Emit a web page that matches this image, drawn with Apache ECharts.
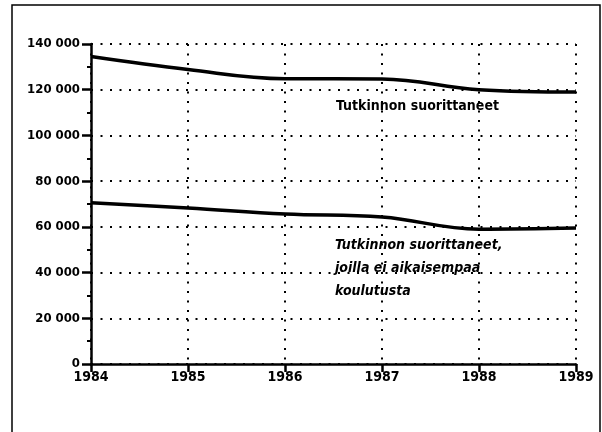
<!DOCTYPE html>
<html>
<head>
<meta charset="utf-8">
<script src="https://cdn.jsdelivr.net/npm/echarts@6/dist/echarts.min.js"></script>
<style>
  html, body { margin: 0; padding: 0; background: #fff; }
  #chart { width: 602px; height: 432px; }
</style>
</head>
<body>
<div id="chart"></div>
<script>
const years = [1984, 1985, 1986, 1987, 1988, 1989];
const graduates = [134500, 128800, 124800, 124700, 120000, 119000];
const graduatesNoPrior = [70500, 68300, 65600, 64300, 59000, 59500];
const yTicks = [0, 20000, 40000, 60000, 80000, 100000, 120000, 140000];

const font = '"Liberation Sans Narrow", "DejaVu Sans Condensed", sans-serif';

function fmt(v) {
  return v === 0 ? '0' : String(v).replace(/(\d)(?=(\d{3})+$)/g, '$1 ');
}

const dotted = { color: '#000', width: 2, type: [2, 7.5] };

const option = {
  animation: false,
  grid: { left: 91, right: 26, top: 44, bottom: 68 },
  xAxis: {
    type: 'value',
    min: 1984, max: 1989, interval: 1,
    axisLine: { show: true, onZero: false, lineStyle: { color: '#000', width: 2.5 } },
    axisTick: { show: true, length: 8, lineStyle: { color: '#000', width: 2.5 } },
    axisLabel: {
      color: '#000', fontFamily: font, fontWeight: 'bold', fontSize: 14, margin: 6,
      formatter: v => String(v)
    },
    splitLine: { show: true, lineStyle: dotted }
  },
  yAxis: {
    type: 'value',
    min: 0, max: 140000, interval: 20000,
    axisLine: { show: true, lineStyle: { color: '#000', width: 2.5 } },
    axisTick: { show: true, length: 9, lineStyle: { color: '#000', width: 2.5 } },
    minorTick: { show: true, splitNumber: 2, length: 4, lineStyle: { color: '#000', width: 2 } },
    axisLabel: {
      color: '#000', fontFamily: font, fontWeight: 'bold', fontSize: 13, margin: 11,
      formatter: v => yTicks.includes(v) ? fmt(v) : ''
    },
    splitLine: { show: true, lineStyle: dotted }
  },
  series: [
    {
      type: 'line', smooth: 0.4, symbol: 'none',
      lineStyle: { color: '#000', width: 3.5 },
      data: years.map((y, i) => [y, graduates[i]])
    },
    {
      type: 'line', smooth: 0.4, symbol: 'none',
      lineStyle: { color: '#000', width: 3.5 },
      data: years.map((y, i) => [y, graduatesNoPrior[i]])
    }
  ],
  graphic: [
    {
      type: 'rect', shape: { x: 12, y: 5, width: 588, height: 440 },
      style: { fill: 'none', stroke: '#000', lineWidth: 1.5 }, silent: true
    },
    {
      type: 'text', left: 336, top: 99,
      style: { text: 'Tutkinnon suorittaneet', fill: '#000', font: 'bold 14px ' + font }
    },
    {
      type: 'text', left: 335, top: 234,
      style: {
        text: 'Tutkinnon suorittaneet,\njoilla ei aikaisempaa\nkoulutusta',
        fill: '#000', font: 'italic bold 14px ' + font, lineHeight: 23
      }
    }
  ]
};

const myChart = echarts.init(document.getElementById('chart'));
myChart.setOption(option);
</script>
</body>
</html>
